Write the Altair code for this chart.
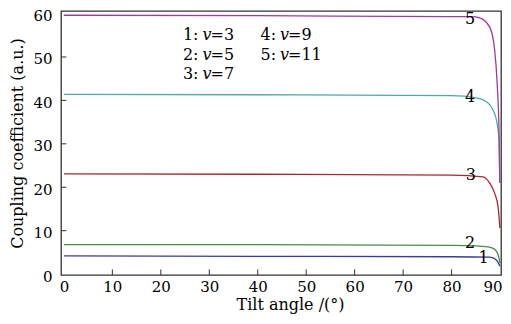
import altair as alt
import pandas as pd

# Series (tilt angle in degrees, coupling coefficient)
angle_1 = [0, 40, 80, 87.9, 89.3, 90.0]
coef_1 = [4.2, 4.1, 4.0, 3.9, 3.2, 1.8]

angle_2 = [0, 40, 80, 86.4, 88.5, 89.5, 90.0]
coef_2 = [6.8, 6.8, 6.6, 6.4, 6.0, 4.8, 2.5]

angle_3 = [0, 40, 80, 86.5, 87.9, 88.9, 89.6, 89.9, 89.97]
coef_3 = [23.1, 23.0, 22.8, 22.4, 20.9, 18.6, 15.5, 11.7, 10.6]

angle_4 = [0, 40, 80, 85.1, 87.2, 88.6, 89.4, 89.8, 89.95]
coef_4 = [41.4, 41.3, 41.1, 40.6, 39.7, 37.7, 34.7, 30.8, 21.2]

angle_5 = [0, 40, 80, 84, 85.8, 87.9, 88.9, 89.4, 89.8, 89.95]
coef_5 = [59.6, 59.5, 59.3, 59.3, 59.0, 56.8, 51.5, 44.0, 32.5, 21.0]

series_names = ["1", "2", "3", "4", "5"]
series_colors = ["#3b3b98", "#4b8b4b", "#a8282e", "#4fa8a9", "#9a3d9e"]

# curve number labels
label_text = ["1", "2", "3", "4", "5"]
label_x = [86.6, 83.8, 84.0, 83.8, 83.8]
label_y = [3.7, 7.1, 22.8, 40.7, 58.7]

# legend block text
legend_prefix = ["1:", "2:", "3:", "4:", "5:"]
legend_suffix = ["=3", "=5", "=7", "=9", "=11"]
legend_x = [28.6, 28.6, 28.6, 44.6, 44.6]
legend_y = [55.0, 50.5, 46.0, 55.0, 50.5]

x_ticks = [0, 10, 20, 30, 40, 50, 60, 70, 80, 90]
y_ticks = [0, 10, 20, 30, 40, 50, 60]
inner_x_ticks = [10, 20, 30, 40, 50, 60, 70, 80]
inner_y_ticks = [10, 20, 30, 40, 50]

X_DOMAIN = [-0.6, 90.2]
Y_DOMAIN = [-0.2, 60.58]
X_TICK_LEN = 1.3   # inward tick length in y data units
Y_TICK_LEN = 1.1   # inward tick length in x data units
FONT = "DejaVu Serif"

rows = []
for name, xs_, ys_ in zip(series_names,
                          [angle_1, angle_2, angle_3, angle_4, angle_5],
                          [coef_1, coef_2, coef_3, coef_4, coef_5]):
    for a, c in zip(xs_, ys_):
        rows.append({"series": name, "angle": a, "coef": c})
lines_df = pd.DataFrame(rows)

labels_df = pd.DataFrame({"t": label_text, "x": label_x, "y": label_y})
legend_df = pd.DataFrame({"p": legend_prefix, "s": legend_suffix,
                          "x": legend_x, "y": legend_y})
xt_df = pd.DataFrame({"v": inner_x_ticks, "a": Y_DOMAIN[0], "b": Y_DOMAIN[0] + X_TICK_LEN})
yt_df = pd.DataFrame({"v": inner_y_ticks, "a": X_DOMAIN[0], "b": X_DOMAIN[0] + Y_TICK_LEN})

xs = alt.Scale(domain=X_DOMAIN, nice=False, zero=False)
ys = alt.Scale(domain=Y_DOMAIN, nice=False, zero=False)

x_axis = alt.Axis(values=x_ticks, title="Tilt angle /(°)", grid=False, ticks=False,
                  domain=False, labelPadding=4, titlePadding=2, titleX=229,
                  labelFlush=2, labelFlushOffset=2)
y_axis = alt.Axis(values=y_ticks, title="Coupling coefficient (a.u.)", grid=False,
                  ticks=False, domain=False, labelPadding=9, titlePadding=7,
                  labelOffset=2)

lines = alt.Chart(lines_df).mark_line(strokeWidth=1.3, interpolate="monotone").encode(
    x=alt.X("angle:Q", scale=xs, axis=x_axis),
    y=alt.Y("coef:Q", scale=ys, axis=y_axis),
    color=alt.Color("series:N", scale=alt.Scale(domain=series_names, range=series_colors),
                    legend=None),
)

num_labels = alt.Chart(labels_df).mark_text(font=FONT, fontSize=16, color="black").encode(
    x=alt.X("x:Q", scale=xs), y=alt.Y("y:Q", scale=ys), text="t:N")

prefix = alt.Chart(legend_df).mark_text(font=FONT, fontSize=16, align="right",
                                        dx=-4, color="black").encode(
    x=alt.X("x:Q", scale=xs), y=alt.Y("y:Q", scale=ys), text="p:N")
vee = alt.Chart(legend_df).mark_text(font=FONT, fontSize=16, align="left",
                                     fontStyle="italic", color="black").encode(
    x=alt.X("x:Q", scale=xs), y=alt.Y("y:Q", scale=ys), text=alt.value("v"))
suffix = alt.Chart(legend_df).mark_text(font=FONT, fontSize=16, align="left",
                                        dx=8, color="black").encode(
    x=alt.X("x:Q", scale=xs), y=alt.Y("y:Q", scale=ys), text="s:N")

xticks = alt.Chart(xt_df).mark_rule(strokeWidth=1, color="#333").encode(
    x=alt.X("v:Q", scale=xs), y=alt.Y("a:Q", scale=ys), y2="b:Q")
yticks = alt.Chart(yt_df).mark_rule(strokeWidth=1, color="#333").encode(
    y=alt.Y("v:Q", scale=ys), x=alt.X("a:Q", scale=xs), x2="b:Q")

chart = alt.layer(lines, xticks, yticks, num_labels, prefix, vee, suffix).properties(
    width=440, height=264,
    autosize=alt.AutoSizeParams(type="none"),
    padding={"left": 53, "top": 3, "right": 2, "bottom": 41},
    background="white",
).configure_view(stroke="#333", strokeWidth=1.3).configure_axis(
    labelFont=FONT, labelFontSize=15, labelColor="black",
    titleFont=FONT, titleFontSize=16, titleFontWeight="normal", titleColor="black",
)

chart.save("out.html", embed_options={"renderer": "svg", "actions": False})
